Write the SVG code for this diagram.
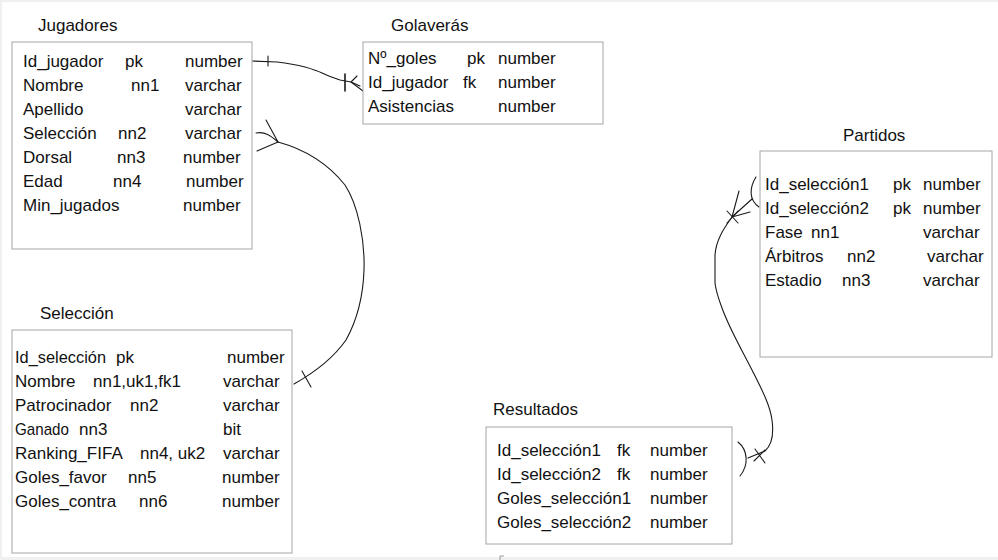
<svg xmlns="http://www.w3.org/2000/svg" width="998" height="560" viewBox="0 0 998 560">
<style>
text{font-family:"Liberation Sans",Arial,sans-serif;font-size:17px;fill:#111}
.box{fill:#fff;stroke:#a6a6a6;stroke-width:1}
.ln{fill:none;stroke:#1a1a1a;stroke-width:1.1;stroke-linecap:round;stroke-linejoin:round}
</style>
<rect x="0" y="0" width="998" height="560" fill="#f0f0f0"/>
<rect x="2" y="2" width="996" height="555" fill="#fff"/>
<path d="M500,560 L500,556 L504,556" fill="none" stroke="#999" stroke-width="1"/>

<g id="connectors">
  <g id="c-jugadores-golaveras">
    <path class="ln" d="M252,61 L277,62 C285,63 293,64 305,67 C312,69 318,71 322,73 C328,76 334,78 340,80 L351,82 L363,91"/>
    <path class="ln" d="M268,56 L268,66"/>
    <path class="ln" d="M345,74 L345,91" style="stroke-width:1.6"/>
    <path class="ln" d="M351,82 L357,76 M351,82 L360,86"/>
  </g>
  <g id="c-jugadores-seleccion">
    <path class="ln" d="M256,133 C266,131 272,137 278,142"/>
    <path class="ln" d="M278,142 L266,120 M278,142 L257,151"/>
    <path class="ln" d="M278,142 C300,148 325,160 345,185 C358,205 365,240 364,270 C363,300 356,322 346,340 C332,360 310,375 294,384"/>
    <path class="ln" d="M302,371 L311,387"/>
  </g>
  <g id="c-partidos-resultados">
    <path class="ln" d="M756,177 C749,188 749,200 759,207"/>
    <path class="ln" d="M732,217 L739,191 M732,217 L752,199 M732,217 L750,212"/>
    <path class="ln" d="M727,211 L738,223 M727,223 L738,211"/>
    <path class="ln" d="M732,217 C724,228 716,240 715,255 L715,283 C716,292 719,300 722,308 C730,330 742,350 752,370 C762,390 770,405 772,420 C774,435 772,445 765,451 L748,458"/>
    <path class="ln" d="M738,442 C748,450 749,465 740,476"/>
    <path class="ln" d="M755,449 L765,463 M754,461 L765,450"/>
  </g>
</g>

<g id="jugadores">
  <text x="38" y="31">Jugadores</text>
  <rect class="box" x="12" y="42" width="240" height="207"/>
  <text x="23" y="67">Id_jugador</text><text x="125" y="67">pk</text><text x="185" y="67">number</text>
  <text x="23" y="91">Nombre</text><text x="131" y="91">nn1</text><text x="185" y="91">varchar</text>
  <text x="23" y="115">Apellido</text><text x="185" y="115">varchar</text>
  <text x="23" y="139">Selección</text><text x="118" y="139">nn2</text><text x="185" y="139">varchar</text>
  <text x="23" y="163">Dorsal</text><text x="117" y="163">nn3</text><text x="183" y="163">number</text>
  <text x="23" y="187">Edad</text><text x="113" y="187">nn4</text><text x="186" y="187">number</text>
  <text x="23" y="211">Min_jugados</text><text x="183" y="211">number</text>
</g>

<g id="golaveras">
  <text x="391" y="31">Golaverás</text>
  <rect class="box" x="363" y="42" width="240" height="82"/>
  <text x="368" y="64">Nº_goles</text><text x="467" y="64">pk</text><text x="498" y="64">number</text>
  <text x="368" y="88">Id_jugador</text><text x="463" y="88">fk</text><text x="498" y="88">number</text>
  <text x="368" y="112">Asistencias</text><text x="498" y="112">number</text>
</g>

<g id="partidos">
  <text x="843" y="141">Partidos</text>
  <rect class="box" x="760" y="151" width="232" height="206"/>
  <text x="765" y="190">Id_selección1</text><text x="893" y="190">pk</text><text x="923" y="190">number</text>
  <text x="765" y="214">Id_selección2</text><text x="893" y="214">pk</text><text x="923" y="214">number</text>
  <text x="765" y="238">Fase</text><text x="811" y="238">nn1</text><text x="923" y="238">varchar</text>
  <text x="765" y="262">Árbitros</text><text x="847" y="262">nn2</text><text x="927" y="262">varchar</text>
  <text x="765" y="286">Estadio</text><text x="842" y="286">nn3</text><text x="923" y="286">varchar</text>
</g>

<g id="seleccion">
  <text x="40" y="319">Selección</text>
  <rect class="box" x="12" y="330" width="280" height="223"/>
  <text x="15" y="363" textLength="91" lengthAdjust="spacingAndGlyphs">Id_selección</text><text x="116" y="363">pk</text><text x="227" y="363">number</text>
  <text x="15" y="387">Nombre</text><text x="93" y="387">nn1,uk1,fk1</text><text x="223" y="387">varchar</text>
  <text x="15" y="411">Patrocinador</text><text x="130" y="411">nn2</text><text x="223" y="411">varchar</text>
  <text x="15" y="435" textLength="54" lengthAdjust="spacingAndGlyphs">Ganado</text><text x="79" y="435">nn3</text><text x="223" y="435">bit</text>
  <text x="15" y="459">Ranking_FIFA</text><text x="140" y="459">nn4, uk2</text><text x="223" y="459">varchar</text>
  <text x="15" y="483">Goles_favor</text><text x="128" y="483">nn5</text><text x="222" y="483">number</text>
  <text x="15" y="507">Goles_contra</text><text x="139" y="507">nn6</text><text x="222" y="507">number</text>
</g>

<g id="resultados">
  <text x="493" y="415">Resultados</text>
  <rect class="box" x="486" y="427" width="246" height="117"/>
  <text x="497" y="456">Id_selección1</text><text x="617" y="456">fk</text><text x="650" y="456">number</text>
  <text x="497" y="480">Id_selección2</text><text x="617" y="480">fk</text><text x="650" y="480">number</text>
  <text x="497" y="504">Goles_selección1</text><text x="650" y="504">number</text>
  <text x="497" y="528">Goles_selección2</text><text x="650" y="528">number</text>
</g>
</svg>
